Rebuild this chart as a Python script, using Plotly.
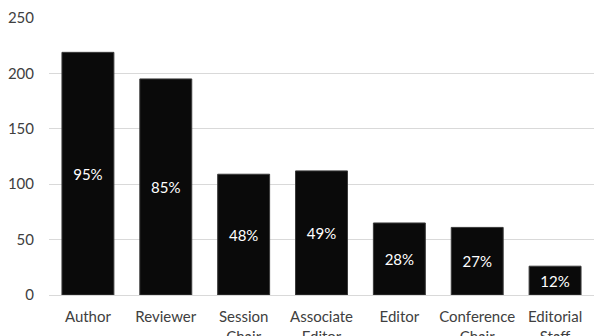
import plotly.graph_objects as go

categories = ["Author", "Reviewer", "Session<br>Chair", "Associate<br>Editor", "Editor", "Conference<br>Chair", "Editorial<br>Staff"]
counts = [219, 195, 109, 112, 65, 61, 26]
percent_labels = ["95%", "85%", "48%", "49%", "28%", "27%", "12%"]
y_ticks = [0, 50, 100, 150, 200, 250]

fig = go.Figure(go.Bar(
    x=categories,
    y=counts,
    text=percent_labels,
    textposition="inside",
    insidetextanchor="middle",
    textangle=0,
    textfont=dict(color="white", size=15, family="Lato"),
    marker=dict(color="#0a0a0a", line=dict(color="#3a3a3a", width=1)),
))

fig.update_layout(
    width=594, height=336,
    margin=dict(l=49, r=0, t=18, b=41),
    plot_bgcolor="white", paper_bgcolor="white",
    bargap=0.333,
    showlegend=False,
    font=dict(family="Lato", color="#595959", size=15),
)
fig.update_xaxes(
    automargin=False, showline=False, ticks="", showgrid=False,
    tickfont=dict(size=15, color="#404040"),
    ticklabelstandoff=11,
)
fig.update_yaxes(
    range=[0, 250], tickvals=y_ticks, automargin=False,
    showgrid=True, gridcolor="#d9d9d9", gridwidth=1,
    zeroline=True, zerolinecolor="#d9d9d9", zerolinewidth=1,
    tickfont=dict(size=15, color="#404040"),
    ticks="", ticklabelstandoff=14,
)

fig.write_html("out.html")
